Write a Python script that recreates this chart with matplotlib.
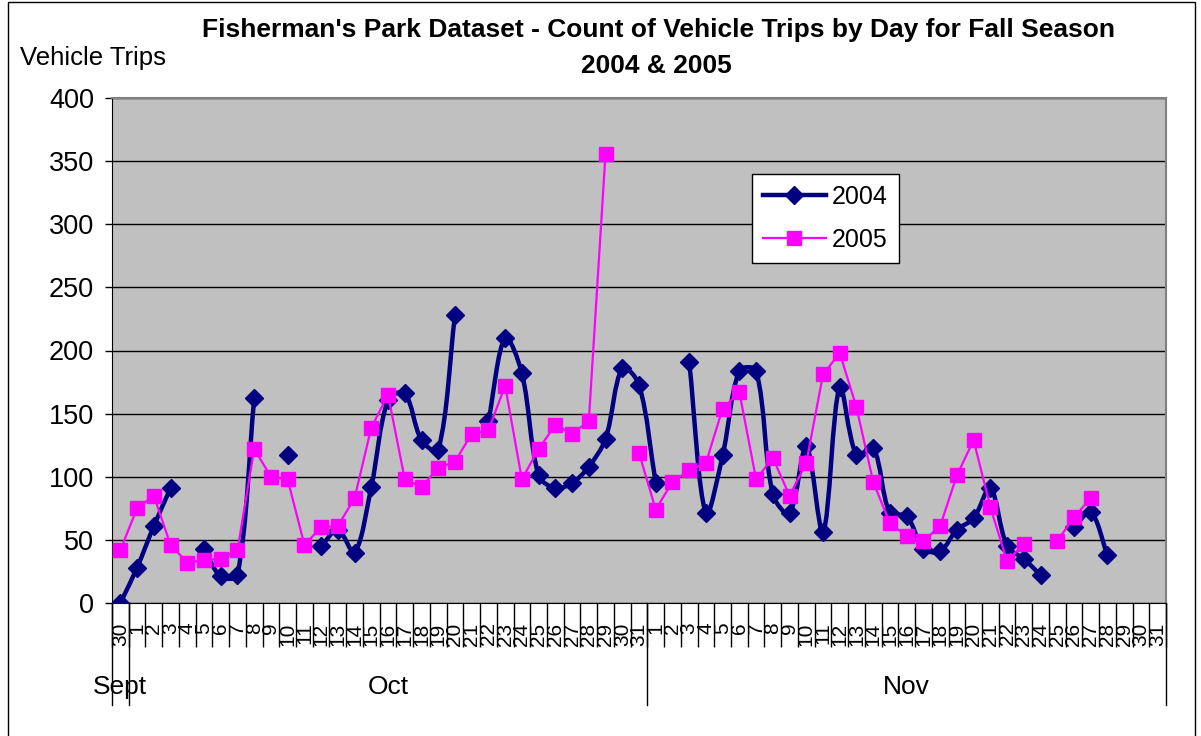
import numpy as np
import matplotlib
matplotlib.use("Agg")
import matplotlib.pyplot as plt
from matplotlib.path import Path
from matplotlib.patches import PathPatch, Rectangle
from matplotlib.lines import Line2D
import matplotlib.transforms as mtransforms

plt.rcParams["font.family"] = ["Liberation Sans", "DejaVu Sans"]

# categories: month groups and day labels
months = ["Sept", "Oct", "Nov"]
month_days = [[30], list(range(1, 32)), list(range(1, 32))]

nan = np.nan
trips_2004 = [
    0, 28, 61, 91, nan, 43, 21, 22, 162, nan, 117, nan, 45, 58, 40, 92,
    161, 166, 129, 121, 228, nan, 144, 210, 182, 101, 91, 95, 108, 130, 186, 173,
    95, nan, 191, 71, 117, 184, 184, 86, 71, 124, 56, 171, 117, 123, 71, 69,
    43, 41, 58, 67, 91, 45, 35, 22, nan, 60, 72, 38, nan, nan, nan,
]
trips_2005 = [
    42, 75, 85, 46, 32, 34, 35, 42, 122, 100, 98, 46, 60, 61, 83, 139,
    165, 98, 92, 107, 112, 134, 137, 172, 98, 122, 141, 134, 144, 356, nan, 119,
    74, 96, 105, 111, 154, 167, 98, 115, 85, 111, 181, 198, 155, 96, 63, 53,
    49, 61, 101, 129, 76, 33, 47, nan, 49, 68, 83, nan, nan, nan, nan,
]

NAVY = "#000080"
PINK = "#FF00FF"

day_labels = [str(d) for days in month_days for d in days]
x = np.arange(len(day_labels))
y04 = np.array(trips_2004, dtype=float)
y05 = np.array(trips_2005, dtype=float)


def segments(xs, ys):
    ok = ~np.isnan(ys)
    segs, cur = [], []
    for xi, yi, good in zip(xs, ys, ok):
        if good:
            cur.append((xi, yi))
        elif cur:
            segs.append(cur)
            cur = []
    if cur:
        segs.append(cur)
    return segs


def smooth_path(ax, pts):
    # Bezier smoothing, tangents weighted by chord length (in screen space)
    p = np.array(pts, dtype=float)
    s = ax.transData.transform(p)
    n = len(p)
    d = np.hypot(*np.diff(s, axis=0).T)
    verts = [p[0]]
    codes = [Path.MOVETO]

    def tangent(k):
        a = p[k - 1] if k > 0 else p[k]
        b = p[k + 1] if k + 1 < n else p[k]
        return b - a

    def weight(k, j):
        left = d[k - 1] if k > 0 else 0.0
        right = d[k] if k < n - 1 else 0.0
        tot = left + right
        return (d[j] / tot) if tot > 0 else 0.0

    for k in range(n - 1):
        c1 = p[k] + tangent(k) * weight(k, k) / 3.0
        c2 = p[k + 1] - tangent(k + 1) * weight(k + 1, k) / 3.0
        verts += [c1, c2, p[k + 1]]
        codes += [Path.CURVE4] * 3
    return Path(verts, codes)


fig = plt.figure(figsize=(12.01, 7.36), dpi=100)
ax = fig.add_axes([112 / 1201, 1 - 603 / 736, (1166 - 112) / 1201, (603 - 98) / 736])
ax.set_facecolor("#C0C0C0")
ax.set_xlim(-0.5, len(x) - 0.5)
ax.set_ylim(0, 400)

# 2004: smoothed thick navy line with diamonds
for seg in segments(x, y04):
    if len(seg) > 1:
        ax.add_patch(PathPatch(smooth_path(ax, seg), fill=False, edgecolor=NAVY,
                               linewidth=3.2, capstyle="round", joinstyle="round", zorder=3))
ax.plot(x, y04, linestyle="none", marker="D", markersize=8.8, color=NAVY, zorder=4)

# 2005: thin magenta straight line with squares
ax.plot(x, y05, color=PINK, linewidth=1.6, marker="s", markersize=10, zorder=5)

ax.set_yticks(np.arange(0, 401, 50))
ax.yaxis.grid(True, color="black", linewidth=1)
ax.set_axisbelow(True)
ax.tick_params(axis="y", direction="out", length=5, width=1, pad=8, labelsize=19.5)

ax.set_xticks(x)
ax.set_xticklabels(day_labels, rotation=90, fontsize=15)
ax.set_xticks(np.arange(-0.5, len(x), 1.0), minor=True)
ax.tick_params(axis="x", which="major", length=0, pad=14)
ax.tick_params(axis="x", which="minor", direction="out", length=32, width=1)

for side in ["top", "right"]:
    ax.spines[side].set_color("#808080")
    ax.spines[side].set_linewidth(1.5)
ax.spines["left"].set_color("black")
ax.spines["bottom"].set_color("black")

# month group labels and separators
trans = mtransforms.blended_transform_factory(ax.transData, ax.transAxes)
start = -0.5
bounds = [start]
for name, days in zip(months, month_days):
    end = start + len(days)
    bounds.append(end)
    ax.text((start + end) / 2, -0.166, name, transform=trans, ha="center",
            va="center", fontsize=19)
    start = end
for b in bounds:
    ax.plot([b, b], [0, -0.202], transform=trans, color="black", linewidth=1,
            clip_on=False)

# legend
h04 = Line2D([], [], color=NAVY, linewidth=3.2, marker="D", markersize=8.8)
h05 = Line2D([], [], color=PINK, linewidth=1.6, marker="s", markersize=10)
leg = ax.legend([h04, h05], ["2004", "2005"], loc="upper left",
                bbox_to_anchor=(0.607, 0.85), borderaxespad=0, fontsize=18,
                frameon=True, fancybox=False, framealpha=1, edgecolor="black",
                handlelength=2.5, borderpad=0.45, labelspacing=0.75,
                handletextpad=0.25)
leg.get_frame().set_linewidth(1)
leg.set_zorder(10)

fig.text(658 / 1201, 1 - 30 / 736, "Fisherman's Park Dataset - Count of Vehicle Trips by Day for Fall Season",
         ha="center", va="center", fontsize=19, fontweight="bold")
fig.text(656 / 1201, 1 - 66 / 736, "2004 & 2005", ha="center", va="center",
         fontsize=19, fontweight="bold")
fig.text(20 / 1201, 1 - 58 / 736, "Vehicle Trips", ha="left", va="center", fontsize=18.5)

fig.add_artist(Rectangle((8 / 1201, -0.1), (1195 - 8) / 1201, 1.1 - 2 / 736,
                         transform=fig.transFigure, fill=False,
                         edgecolor="black", linewidth=1))

fig.savefig("out.png", dpi=100, facecolor="white")
